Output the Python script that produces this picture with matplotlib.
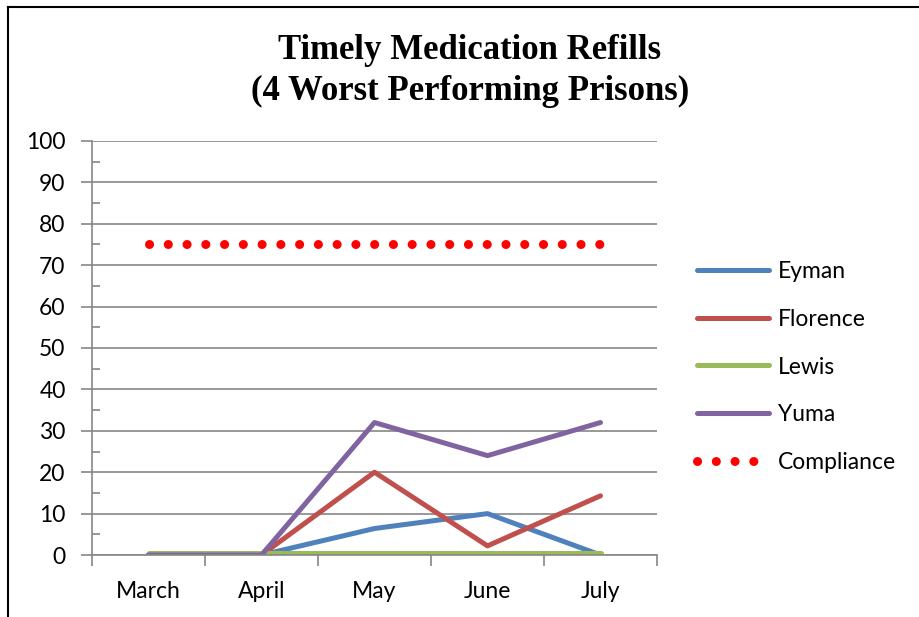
import matplotlib
matplotlib.use("Agg")
import matplotlib.pyplot as plt
from matplotlib.lines import Line2D
from matplotlib.ticker import MultipleLocator, FixedLocator

months = ["March", "April", "May", "June", "July"]
eyman = [0, 0, 6.4, 10, 0]
florence = [0, 0, 20, 2.2, 14.3]
lewis = [0.5, 0.5, 0.5, 0.5, 0.5]
yuma = [0, 0, 32, 24, 32]
compliance = [75, 75, 75, 75, 75]

plt.rcParams['font.family'] = ['Lato', 'DejaVu Sans']

fig = plt.figure(figsize=(9.2, 6.17), dpi=100)
ax = fig.add_axes([92 / 920, 1 - 555 / 617, (657 - 92) / 920, (555 - 141) / 617])

x = list(range(len(months)))
ax.plot(x, eyman, color="#4F81BD", lw=3.6, solid_capstyle="round", label="Eyman")
ax.plot(x, florence, color="#C0504D", lw=3.6, solid_capstyle="round", label="Florence")
ax.plot(x, lewis, color="#9BBB59", lw=3.6, solid_capstyle="round", label="Lewis")
ax.plot(x, yuma, color="#8064A2", lw=3.6, solid_capstyle="round", label="Yuma")
# round-capped zero-length dashes give the dotted compliance line
ax.plot(x, compliance, color="#FF0000", lw=6.5, linestyle=(0, (0.01, 2.068)),
        dash_capstyle="round", label="Compliance")

ax.set_xlim(-0.5, 4.5)
ax.set_ylim(0, 100)
ax.set_xticks(x)
ax.set_xticklabels(months)
ax.xaxis.set_minor_locator(FixedLocator([i - 0.5 for i in range(6)]))
ax.tick_params(axis="x", which="major", length=0, labelsize=16.5, pad=19)
ax.tick_params(axis="x", which="minor", length=8, width=1.2, color="#868686", direction="out")
ax.yaxis.set_major_locator(MultipleLocator(10))
ax.yaxis.set_minor_locator(MultipleLocator(5))
ax.tick_params(axis="y", which="major", length=8, width=1.2, color="#868686",
               direction="out", labelsize=16.5, pad=11)
ax.tick_params(axis="y", which="minor", length=6, width=1.2, color="#868686", direction="in")
ax.grid(axis="y", color="#868686", lw=1.2)
ax.set_axisbelow(True)
for s in ["top", "right"]:
    ax.spines[s].set_visible(False)
for s in ["left", "bottom"]:
    ax.spines[s].set_color("#868686")
    ax.spines[s].set_linewidth(1.2)

leg = ax.legend(loc="center left", bbox_to_anchor=(697 / 920, 1 - 367 / 617),
                bbox_transform=fig.transFigure, frameon=False, fontsize=16.5,
                handlelength=3.15, handletextpad=0.4, labelspacing=1.16,
                borderaxespad=0, borderpad=0)

fig.text(470 / 920, 1 - 71 / 617, "Timely Medication Refills\n(4 Worst Performing Prisons)",
         ha="center", va="center", fontsize=25, fontweight="bold",
         family=["Liberation Serif", "DejaVu Serif"], linespacing=1.28)

# chart frame (only top and left edges are visible in the crop)
fig.add_artist(Line2D([8 / 920, 1], [1 - 7 / 617, 1 - 7 / 617], color="black", lw=1.5))
fig.add_artist(Line2D([8 / 920, 8 / 920], [0, 1 - 7 / 617], color="black", lw=1.5))

fig.savefig("out.png", dpi=100)
